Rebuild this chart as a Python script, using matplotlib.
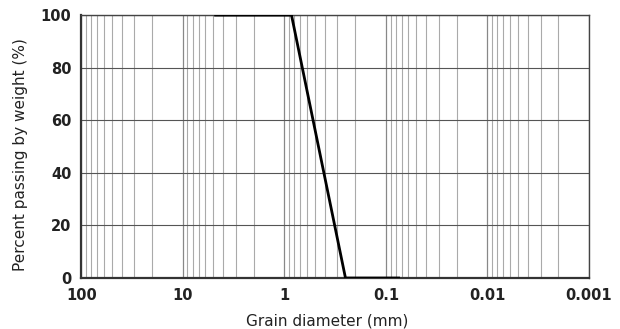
import numpy as np
import matplotlib.pyplot as plt
from matplotlib.ticker import LogLocator, FixedLocator, NullFormatter

# Grain size distribution (sieve analysis)
grain_mm = [4.75, 0.85, 0.25, 0.075]
passing_pct = [100, 100, 0, 0]

x_ticks = [100, 10, 1, 0.1, 0.01, 0.001]
x_labels = ["100", "10", "1", "0.1", "0.01", "0.001"]
y_ticks = [0, 20, 40, 60, 80, 100]

plt.rcParams['font.family'] = ['DejaVu Sans']

fig = plt.figure(figsize=(6.2, 3.29), dpi=100)
ax = fig.add_axes([0.131, 0.155, 0.819, 0.799])

ax.set_xscale('log')
ax.set_xlim(100, 0.001)
ax.set_ylim(0, 100)

# log grid: minor lines for 2..9 of each decade
ax.xaxis.set_major_locator(FixedLocator(x_ticks))
ax.xaxis.set_minor_locator(LogLocator(base=10, subs=np.arange(2, 10), numticks=20))
ax.xaxis.set_minor_formatter(NullFormatter())
ax.set_xticks(x_ticks)
ax.set_xticklabels(x_labels)
ax.set_yticks(y_ticks)

ax.grid(which='major', axis='x', color='#888888', lw=0.9)
ax.grid(which='minor', axis='x', color='#aaaaaa', lw=0.8)
ax.grid(which='major', axis='y', color='#555555', lw=0.8)

ax.plot(grain_mm, passing_pct, color='black', lw=2.0, zorder=3)

for side in ['top', 'right']:
    ax.spines[side].set_linewidth(1.0)
    ax.spines[side].set_color('#444444')
for side in ['left', 'bottom']:
    ax.spines[side].set_linewidth(1.6)
    ax.spines[side].set_color('#333333')

ax.tick_params(which='both', length=0, pad=7, labelsize=10.5)
for lbl in ax.get_xticklabels() + ax.get_yticklabels():
    lbl.set_fontweight('bold')
    lbl.set_color('#222222')

ax.set_xlabel("Grain diameter (mm)", fontsize=11, color='#222222', labelpad=5)
ax.set_ylabel("Percent passing by weight (%)", fontsize=11, color='#222222', labelpad=8)
ax.xaxis.set_label_coords(0.485, -0.135)
ax.yaxis.set_label_coords(-0.105, 0.468)

plt.savefig("out.png", dpi=100)
